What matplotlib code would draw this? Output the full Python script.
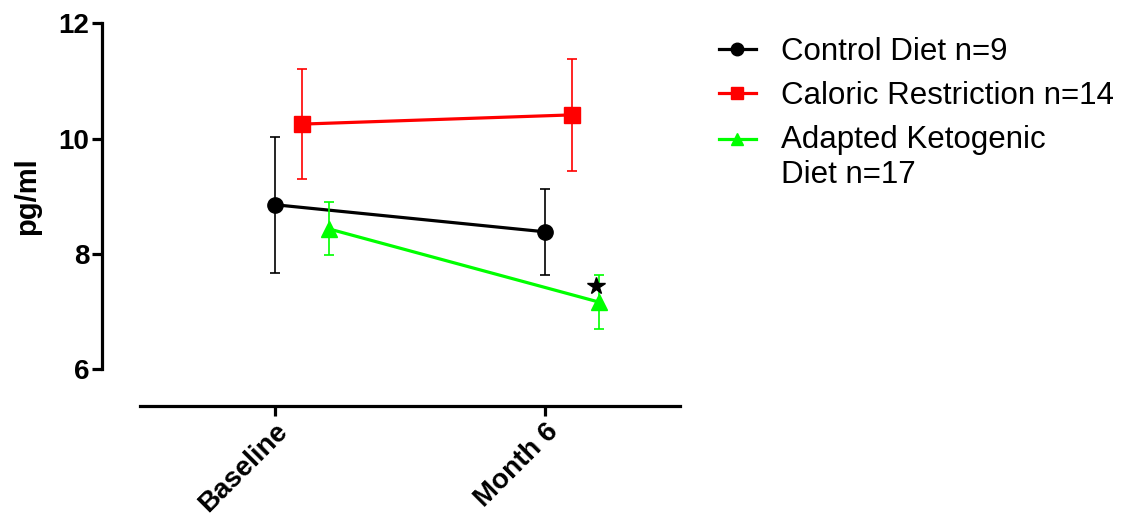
import matplotlib.pyplot as plt
from matplotlib.lines import Line2D
from matplotlib.legend_handler import HandlerLine2D
import numpy as np

plt.rcParams['font.family'] = ['Liberation Sans', 'DejaVu Sans']

timepoints = ["Baseline", "Month 6"]
groups = ["Control Diet n=9", "Caloric Restriction n=14", "Adapted Ketogenic\nDiet n=17"]
means = [
    [8.85, 8.38],
    [10.25, 10.41],
    [8.43, 7.16],
]
errors = [
    [1.18, 0.75],
    [0.955, 0.97],
    [0.46, 0.47],
]
colors = ['black', '#ff0000', '#00ff00']
markers = ['o', 's', '^']
offsets = [0.0, 0.1, 0.2]
star_y = 7.44


class FirstLineHandler(HandlerLine2D):
    # put the handle next to the first line of a two-line label
    def create_artists(self, legend, orig_handle, xdescent, ydescent,
                       width, height, fontsize, trans):
        return super().create_artists(legend, orig_handle, xdescent,
                                      ydescent - 1.22 * fontsize, width,
                                      height, fontsize, trans)


fig = plt.figure(figsize=(11.26, 5.28), dpi=100)
ax = fig.add_axes([102/1126, 122/528, 578/1126, 382.7/528])

x = np.arange(len(timepoints))
for i in range(len(groups)):
    ax.errorbar(x + offsets[i], means[i], yerr=errors[i], color=colors[i],
                marker=markers[i], markersize=11, linewidth=2.3,
                elinewidth=1.2, capsize=3.5, capthick=1.2, zorder=2 + i)

ax.plot(x[1] + offsets[2] - 0.01, star_y, marker='*', color='black',
        markersize=13, linestyle='none', zorder=6)

ax.set_xlim(-0.641, 1.5)
ax.set_ylim(5.356, 12)
ax.set_yticks([6, 8, 10, 12])
ax.set_xticks(x)
ax.set_xticklabels(timepoints, rotation=45, ha='right', rotation_mode='anchor',
                   fontsize=20, fontweight='bold')
for lab in ax.get_yticklabels():
    lab.set_fontsize(20)
    lab.set_fontweight('bold')
ax.set_ylabel("pg/ml", fontsize=21, fontweight='bold')
ax.yaxis.set_label_coords(-0.105, (9 - 5.356) / (12 - 5.356))

ax.spines['top'].set_visible(False)
ax.spines['right'].set_visible(False)
ax.spines['left'].set_bounds(6, 12)
ax.spines['bottom'].set_bounds(-0.5, 1.5)
ax.spines['left'].set_linewidth(2.3)
ax.spines['bottom'].set_linewidth(2.3)
ax.tick_params(axis='both', direction='out', width=2.3, length=7, pad=2)

handles = [Line2D([], [], color=colors[i], marker=markers[i], markersize=9,
                  linewidth=2.3) for i in range(len(groups))]
fig.legend(handles, groups, loc='upper left', bbox_to_anchor=(706/1126, 1 - 24/528),
           frameon=False, fontsize=22.5, handlelength=1.2, handletextpad=0.8,
           labelspacing=0.46, borderaxespad=0,
           handler_map={handles[2]: FirstLineHandler()})

fig.savefig("out.png", dpi=100)
